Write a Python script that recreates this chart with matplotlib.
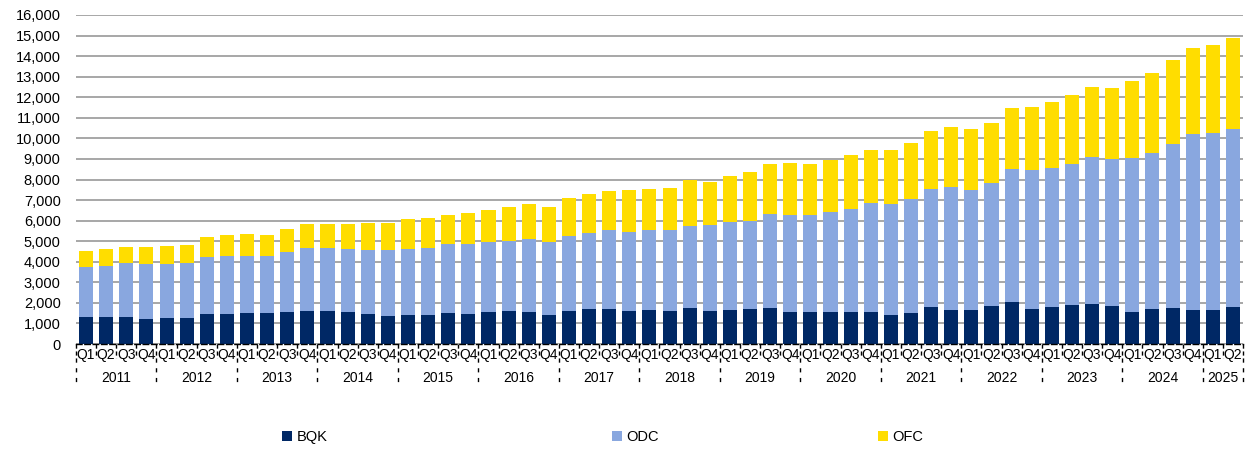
import matplotlib
matplotlib.use("Agg")
import matplotlib.pyplot as plt
import matplotlib.transforms as mtransforms
from matplotlib.patches import Patch
import numpy as np

plt.rcParams['font.family'] = ['Liberation Sans', 'DejaVu Sans']

years = [str(y) for y in range(2011, 2026)]
quarters = ['Q1', 'Q2', 'Q3', 'Q4'] * 14 + ['Q1', 'Q2']

# cumulative readings (thousands) -> converted to segments below
bqk = [1.29, 1.29, 1.29, 1.23, 1.25, 1.26, 1.44, 1.47, 1.49, 1.49, 1.54, 1.59,
       1.59, 1.54, 1.44, 1.38, 1.39, 1.39, 1.50, 1.44, 1.55, 1.59, 1.57, 1.39,
       1.59, 1.70, 1.72, 1.59, 1.63, 1.62, 1.73, 1.59, 1.67, 1.68, 1.73, 1.54,
       1.57, 1.57, 1.54, 1.54, 1.39, 1.50, 1.78, 1.67, 1.67, 1.84, 2.06, 1.68,
       1.78, 1.89, 1.93, 1.83, 1.54, 1.68, 1.75, 1.63, 1.63, 1.78]
odc_top = [3.74, 3.79, 3.93, 3.88, 3.87, 3.92, 4.21, 4.30, 4.30, 4.26, 4.47, 4.66,
           4.66, 4.61, 4.56, 4.55, 4.64, 4.66, 4.84, 4.84, 4.95, 5.03, 5.11, 4.94,
           5.26, 5.39, 5.52, 5.47, 5.52, 5.52, 5.76, 5.78, 5.91, 5.99, 6.34, 6.28,
           6.28, 6.44, 6.57, 6.88, 6.83, 7.06, 7.54, 7.62, 7.49, 7.85, 8.51, 8.48,
           8.58, 8.77, 9.08, 9.00, 9.03, 9.29, 9.74, 10.23, 10.28, 10.47]
total = [4.53, 4.60, 4.71, 4.71, 4.76, 4.82, 5.18, 5.29, 5.36, 5.31, 5.58, 5.83,
         5.86, 5.86, 5.87, 5.89, 6.08, 6.12, 6.28, 6.36, 6.52, 6.67, 6.81, 6.67,
         7.10, 7.28, 7.46, 7.51, 7.54, 7.59, 7.96, 7.90, 8.17, 8.35, 8.75, 8.79,
         8.74, 8.96, 9.19, 9.43, 9.43, 9.79, 10.34, 10.57, 10.45, 10.76, 11.47, 11.55,
         11.78, 12.10, 12.52, 12.44, 12.80, 13.19, 13.79, 14.40, 14.55, 14.90]

bqk_v = np.array(bqk) * 1000
odc_v = (np.array(odc_top) - np.array(bqk)) * 1000
ofc_v = (np.array(total) - np.array(odc_top)) * 1000

c_bqk = '#002865'
c_odc = '#89A7DF'
c_ofc = '#FFDD00'

fig = plt.figure(figsize=(12.49, 4.5), dpi=100)
ax = fig.add_axes([76 / 1249, 1 - 344 / 450, (1243 - 76) / 1249, (344 - 15) / 450])

x = np.arange(len(quarters))
w = 0.7
ax.bar(x, bqk_v, w, color=c_bqk, zorder=3)
ax.bar(x, odc_v, w, bottom=bqk_v, color=c_odc, zorder=3)
ax.bar(x, ofc_v, w, bottom=bqk_v + odc_v, color=c_ofc, zorder=3)

ax.set_xlim(-0.5, len(quarters) - 0.5)
ax.set_ylim(0, 16000)
ax.set_yticks(np.arange(0, 16001, 1000))
ax.set_yticklabels([f'{v:,}' for v in range(0, 16001, 1000)], fontsize=10.5)
ax.yaxis.grid(True, color='#A0A0A0', linewidth=1.3, zorder=0)
ax.set_axisbelow(True)
ax.tick_params(axis='y', length=0, pad=11)

for s in ['left', 'right', 'top']:
    ax.spines[s].set_visible(False)
ax.spines['bottom'].set_linestyle((0, (4, 2)))
ax.spines['bottom'].set_color('black')
ax.spines['bottom'].set_linewidth(1.0)
ax.spines['bottom'].set_zorder(4)

ax.set_xticks(x)
ax.set_xticklabels(quarters, fontsize=10)
ax.tick_params(axis='x', length=0, pad=3)

trans = mtransforms.blended_transform_factory(ax.transData, ax.transAxes)
ymin_short = -14 / 329
ymin_long = -42 / 329
for b in np.arange(-0.5, len(quarters), 1.0):
    ax.plot([b, b], [0, ymin_short], transform=trans, color='black',
            linestyle=(0, (3, 2)), linewidth=1.0, clip_on=False)

year_bounds = list(np.arange(-0.5, len(quarters) - 0.5, 4.0)) + [len(quarters) - 0.5]
for b in year_bounds:
    ax.plot([b, b], [ymin_short, ymin_long], transform=trans, color='black',
            linestyle=(0, (3, 4)), linewidth=1.0, clip_on=False)

for i, yr in enumerate(years):
    lo = year_bounds[i]
    hi = year_bounds[i + 1]
    ax.text((lo + hi) / 2, -34 / 329, yr, transform=trans, ha='center',
            va='center', fontsize=10)

for lab, col, xpos in [('BQK', c_bqk, 282), ('ODC', c_odc, 612), ('OFC', c_ofc, 878)]:
    fig.legend(handles=[Patch(facecolor=col, edgecolor='none')], labels=[lab],
               loc='center left', bbox_to_anchor=(xpos / 1249, 1 - 437 / 450),
               frameon=False, fontsize=10.5, handlelength=0.7, handleheight=0.7,
               handletextpad=0.3, borderpad=0, borderaxespad=0)

fig.savefig('out.png', dpi=100)
